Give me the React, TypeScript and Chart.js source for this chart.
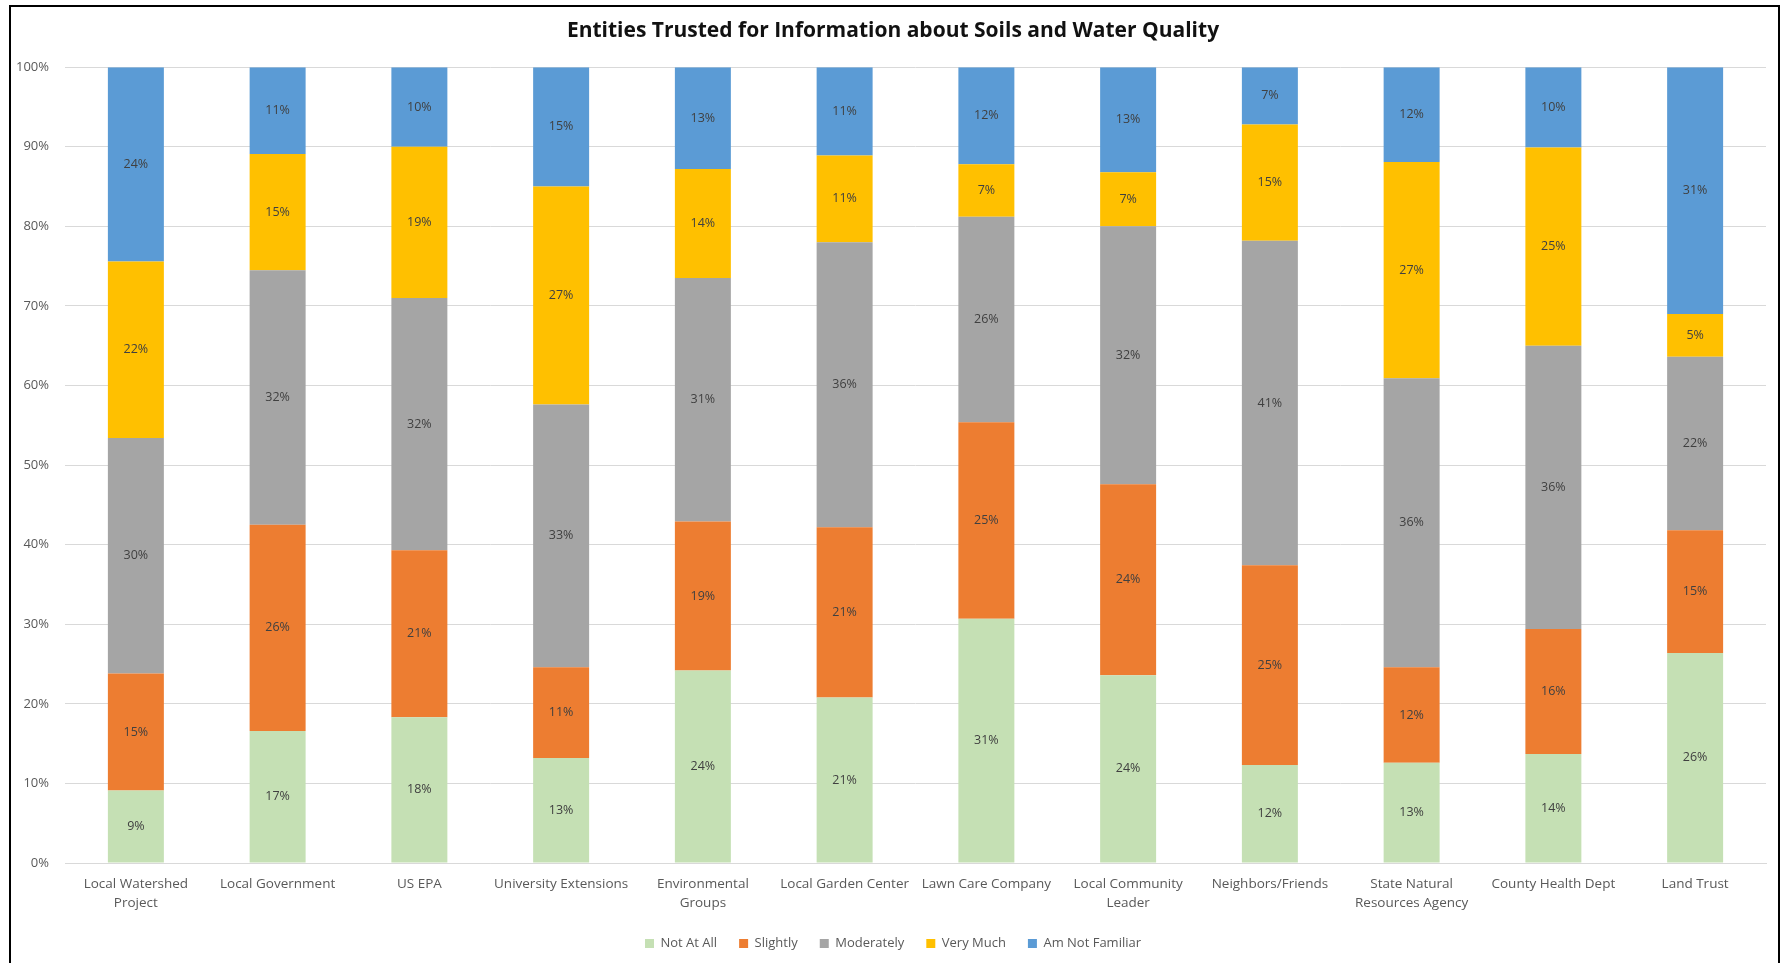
import React, { useEffect, useRef } from "react";
import { Chart, registerables } from "chart.js";

Chart.register(...registerables);

// Entities asked about, in display order
const categories: (string | string[])[] = [
  ["Local Watershed", "Project"],
  "Local Government",
  "US EPA",
  "University Extensions",
  ["Environmental", "Groups"],
  "Local Garden Center",
  "Lawn Care Company",
  ["Local Community", "Leader"],
  "Neighbors/Friends",
  ["State Natural", "Resources Agency"],
  "County Health Dept",
  "Land Trust",
];

// Share of respondents (%) for each trust level
const notAtAll = [9.1, 16.6, 18.3, 13.2, 24.2, 20.8, 30.7, 23.6, 12.3, 12.6, 13.7, 26.4];
const slightly = [14.7, 25.9, 21.0, 11.4, 18.7, 21.4, 24.7, 24.0, 25.1, 12.0, 15.7, 15.4];
const moderately = [29.6, 32.0, 31.7, 33.0, 30.6, 35.8, 25.8, 32.4, 40.8, 36.3, 35.6, 21.8];
const veryMuch = [22.2, 14.6, 19.0, 27.4, 13.7, 10.9, 6.6, 6.8, 14.6, 27.2, 24.9, 5.4];
const notFamiliar = [24.4, 10.9, 10.0, 15.0, 12.8, 11.1, 12.2, 13.2, 7.2, 11.9, 10.1, 31.0];

const seriesNames = ["Not At All", "Slightly", "Moderately", "Very Much", "Am Not Familiar"];
const seriesColors = ["#C5E0B4", "#ED7D31", "#A5A5A5", "#FFC000", "#5B9BD5"];

const yTicks = [0, 10, 20, 30, 40, 50, 60, 70, 80, 90, 100];

const FONT = "'Open Sans', Lato, sans-serif";

// Writes the rounded percentage in the middle of every stacked segment
const segmentLabels = {
  id: "segmentLabels",
  afterDatasetsDraw(chart: Chart) {
    const ctx = chart.ctx;
    ctx.save();
    ctx.font = `12.5px ${FONT}`;
    ctx.fillStyle = "#404040";
    ctx.textAlign = "center";
    ctx.textBaseline = "middle";
    chart.data.datasets.forEach((ds, di) => {
      const meta = chart.getDatasetMeta(di);
      meta.data.forEach((el: any, i: number) => {
        const v = ds.data[i] as number;
        const cy = (el.y + el.base) / 2;
        ctx.fillText(`${Math.round(v)}%`, el.x, cy);
      });
    });
    ctx.restore();
  },
};

export default function App() {
  const ref = useRef<HTMLCanvasElement | null>(null);

  useEffect(() => {
    if (!ref.current) return;
    const values = [notAtAll, slightly, moderately, veryMuch, notFamiliar];
    const chart = new Chart(ref.current, {
      type: "bar",
      data: {
        labels: categories,
        datasets: seriesNames.map((name, k) => ({
          label: name,
          data: values[k],
          backgroundColor: seriesColors[k],
          borderWidth: 0,
          barPercentage: 0.395,
          categoryPercentage: 1,
        })),
      },
      options: {
        responsive: false,
        animation: false,
        devicePixelRatio: 1,
        layout: { padding: { left: 0, right: 0, top: 0, bottom: 3 } },
        plugins: {
          title: {
            display: true,
            text: "Entities Trusted for Information about Soils and Water Quality",
            color: "#111111",
            font: { family: FONT, size: 21, weight: "bold", lineHeight: 1.2 },
            padding: { top: 18, bottom: 24 },
          },
          legend: {
            position: "bottom",
            labels: {
              color: "#595959",
              font: { family: FONT, size: 13 },
              boxWidth: 9,
              boxHeight: 9,
              padding: 22,
            },
          },
          tooltip: { enabled: false },
        },
        scales: {
          x: {
            stacked: true,
            clip: false,
            grid: { display: false, drawTicks: false },
            border: { display: true, color: "#D9D9D9", width: 1 },
            ticks: {
              color: "#595959",
              font: { family: FONT, size: 13.5, lineHeight: 1.45 },
              padding: 11,
              maxRotation: 0,
              autoSkip: false,
            },
            afterFit(scale: any) {
              scale.height = 52;
            },
          },
          y: {
            stacked: true,
            clip: false,
            min: 0,
            max: 100,
            afterBuildTicks(scale: any) {
              scale.ticks = yTicks.map((v) => ({ value: v }));
            },
            grid: { color: "#D9D9D9", drawTicks: false },
            border: { display: false },
            ticks: {
              color: "#595959",
              font: { family: FONT, size: 13 },
              padding: 16,
              callback: (v: any) => `${v}%`,
            },
            afterFit(scale: any) {
              scale.width = 65;
            },
          },
          // empty right-hand margin beside the plot
          yRight: {
            position: "right",
            min: 0,
            max: 100,
            grid: { display: false, drawTicks: false },
            border: { display: false },
            ticks: { display: false },
            afterFit(scale: any) {
              scale.width = 20;
            },
          },
        },
      },
      plugins: [segmentLabels],
    });
    return () => chart.destroy();
  }, []);

  return (
    <div>
      <canvas
        ref={ref}
        width={1786}
        height={963}
        style={{ position: "absolute", left: 0, top: 0, width: 1786, height: 963 }}
      />
      <div
        style={{
          position: "absolute",
          left: 9,
          top: 5,
          width: 1771,
          height: 975,
          border: "2px solid #000",
          boxSizing: "border-box",
          pointerEvents: "none",
        }}
      />
    </div>
  );
}
